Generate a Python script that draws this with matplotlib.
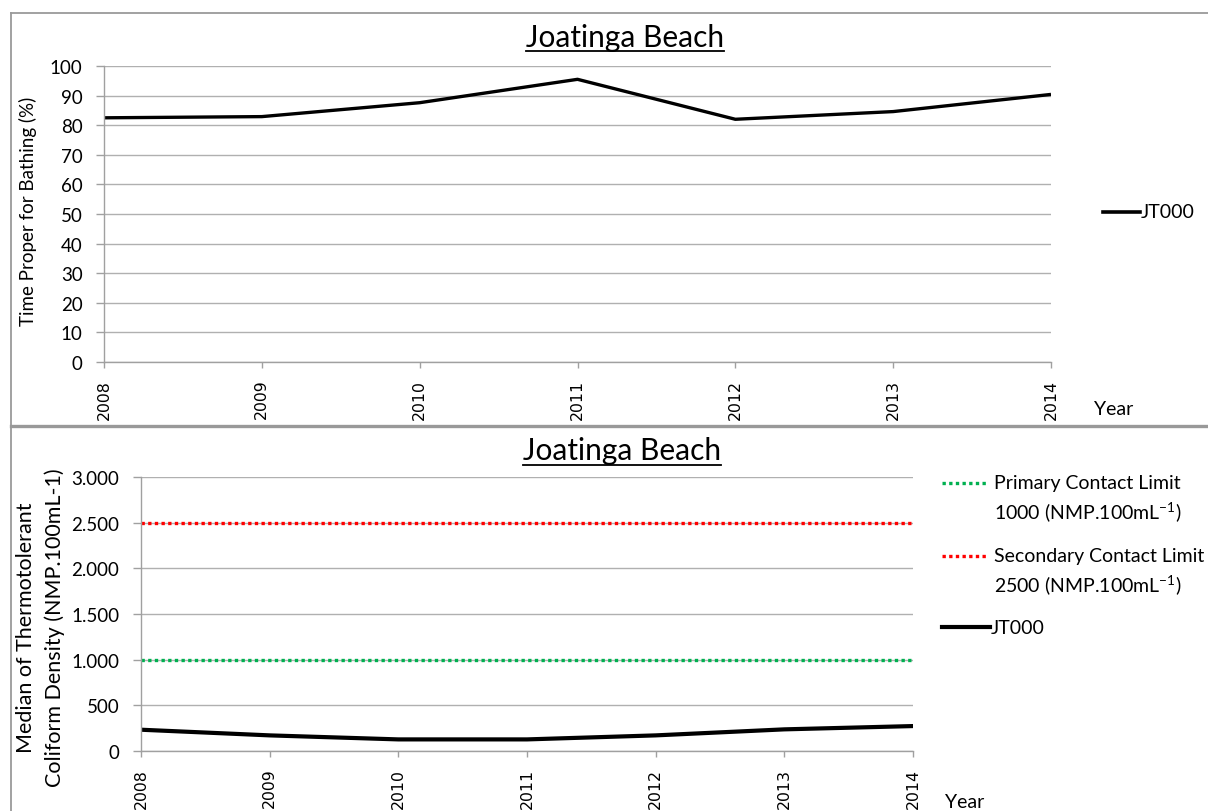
import matplotlib
matplotlib.use('Agg')
import matplotlib.pyplot as plt
from matplotlib.lines import Line2D
from matplotlib.ticker import FuncFormatter

# ---- data ----
years = [2008, 2009, 2010, 2011, 2012, 2013, 2014]
proper_pct = [82.5, 82.9, 87.6, 95.5, 82.0, 84.6, 90.4]
coliform_median = [233, 171, 127, 127, 171, 237, 273]
primary_limit = 1000
secondary_limit = 2500
title_text = "Joatinga Beach"
series_name = "JT000"
primary_label = "Primary Contact Limit\n1000 (NMP.100mL$^{-1}$)"
secondary_label = "Secondary Contact Limit\n2500 (NMP.100mL$^{-1}$)"
top_ylabel = "Time Proper for Bathing (%)"
bottom_ylabel = "Median of Thermotolerant\nColiform Density (NMP.100mL-1)"

plt.rcParams['font.family'] = ['Lato', 'DejaVu Sans']
plt.rcParams['mathtext.fontset'] = 'custom'
plt.rcParams['mathtext.rm'] = 'Lato'
plt.rcParams['mathtext.it'] = 'Lato'

W, H = 1208, 812
fig = plt.figure(figsize=(W / 100, H / 100), dpi=100)

GRID = '#b0b0b0'
SPINE = '#a0a0a0'
GREEN = '#00b050'
RED = '#ff0000'


def fx(px):
    return px / W


def fy(py):
    return 1 - py / H


# panel borders
fig.add_artist(Line2D([fx(11), fx(11)], [fy(14), fy(812)], color='#9a9a9a', lw=1.3))
fig.add_artist(Line2D([fx(11), 1], [fy(14), fy(14)], color='#9a9a9a', lw=1.3))
fig.add_artist(Line2D([fx(11), 1], [fy(426.5), fy(426.5)], color='#999999', lw=2.4))


def style_axes(ax):
    for s in ['top', 'right']:
        ax.spines[s].set_visible(False)
    for s in ['left', 'bottom']:
        ax.spines[s].set_color(SPINE)
        ax.spines[s].set_linewidth(1.0)
    ax.grid(axis='y', color=GRID, lw=1.0)
    ax.set_axisbelow(True)
    ax.tick_params(axis='y', length=5.5, width=1.0, color=SPINE, pad=10, labelsize=13.5)
    ax.tick_params(axis='x', length=4, width=1.0, color=SPINE, pad=8,
                   labelrotation=90)
    ax.set_xticks(years)
    ax.set_xticklabels([str(y) for y in years])
    for lab in ax.get_xticklabels():
        lab.set_fontfamily('DejaVu Sans')
        lab.set_fontsize(11.3)
    ax.set_xlim(years[0], years[-1])


def underlined_title(x, y, uy, text):
    t = fig.text(fx(x), fy(y), text, ha='center', va='center', fontsize=21.5)
    fig.canvas.draw()
    bb = t.get_window_extent()
    fig.add_artist(Line2D([bb.x0 / W, bb.x1 / W], [fy(uy), fy(uy)], color='black', lw=1.3))


def legend_entry(x0, x1, y, color, lw, ls, label, tx, dy=28):
    fig.add_artist(Line2D([fx(x0), fx(x1)], [fy(y), fy(y)], color=color, lw=lw, ls=ls))
    for i, line in enumerate(label.split('\n')):
        fig.text(fx(tx), fy(y + i * dy), line, ha='left', va='center', fontsize=14)


# ---- top chart ----
ax1 = fig.add_axes([fx(104), fy(363), fx(1051) - fx(104), fy(67) - fy(363)])
style_axes(ax1)
ax1.plot(years, proper_pct, color='black', lw=2.4, solid_capstyle='butt')
ax1.set_ylim(0, 100)
ax1.set_yticks(range(0, 101, 10))
fig.text(fx(28), fy(211), top_ylabel, rotation=90, ha='center', va='center',
         fontsize=13.5)
legend_entry(1103, 1140, 213, 'black', 2.6, '-', series_name, 1141)
fig.text(fx(1094), fy(410), "Year", ha='left', va='center', fontsize=14)
underlined_title(625, 38, 52, title_text)

# ---- bottom chart ----
ax2 = fig.add_axes([fx(141), fy(752), fx(913) - fx(141), fy(478) - fy(752)])
style_axes(ax2)
ax2.plot(years, [primary_limit] * len(years), color=GREEN, lw=2.4, ls=(0, (1, 1)))
ax2.plot(years, [secondary_limit] * len(years), color=RED, lw=2.4, ls=(0, (1, 1)))
ax2.plot(years, coliform_median, color='black', lw=3.0)
ax2.set_ylim(0, 3000)
ax2.set_yticks(range(0, 3001, 500))
ax2.yaxis.set_major_formatter(FuncFormatter(lambda v, p: f"{int(v):,}".replace(',', '.')))
fig.text(fx(40.5), fy(628), bottom_ylabel, rotation=90, ha='center', va='center',
         fontsize=15.5, linespacing=1.45, multialignment='center')
legend_entry(942, 987, 484, GREEN, 2.4, (0, (1, 1)), primary_label, 994)
legend_entry(942, 987, 557, RED, 2.4, (0, (1, 1)), secondary_label, 994)
legend_entry(942, 990, 628, 'black', 3.0, '-', series_name, 991)
fig.text(fx(945), fy(803), "Year", ha='left', va='center', fontsize=14)
underlined_title(622, 451, 466, title_text)

fig.savefig('out.png', dpi=100)
